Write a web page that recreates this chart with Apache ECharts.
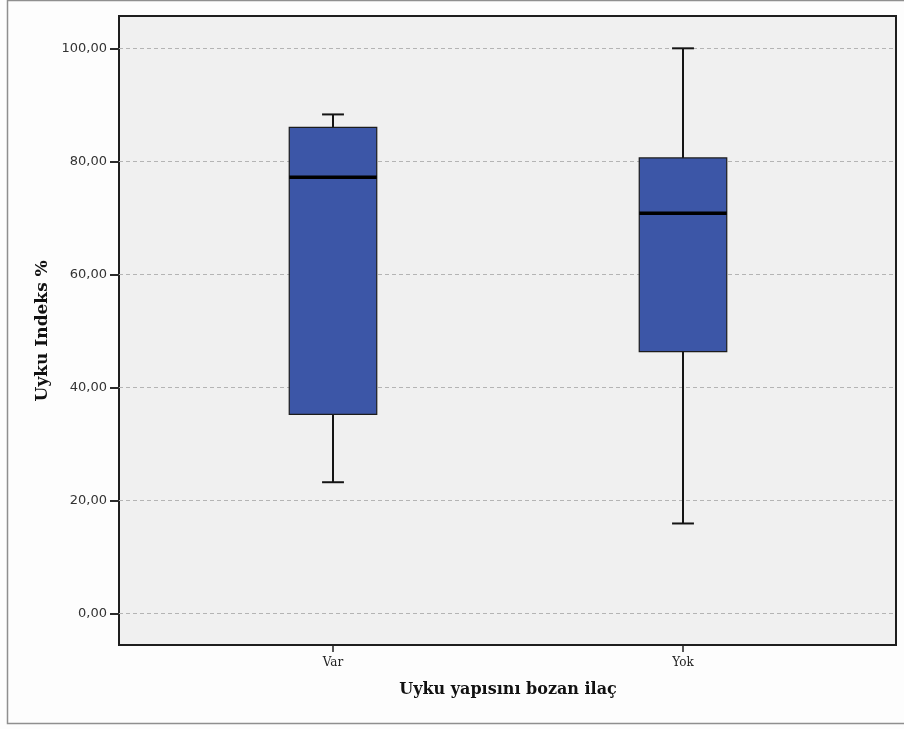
<!DOCTYPE html>
<html>
<head>
<meta charset="utf-8">
<script src="https://cdn.jsdelivr.net/npm/echarts@6/dist/echarts.min.js"></script>
<style>
  html, body { margin: 0; padding: 0; background: #fdfdfd; }
  #chart { width: 904px; height: 729px; }
</style>
</head>
<body>
<div id="chart"></div>
<script>
// Groups and box-plot statistics (Uyku Indeks %)
const categories = ['Var', 'Yok'];
const lowerWhisker = [23.2, 15.9];
const q1 = [35.2, 46.3];
const median = [77.2, 70.8];
const q3 = [86.0, 80.6];
const upperWhisker = [88.3, 100.0];
const yTicks = [0, 20, 40, 60, 80, 100];

// value range of the full plot frame (slightly wider than the tick range)
const frameMin = -5.61;
const frameMax = 105.72;

const boxData = categories.map((c, i) => [i, lowerWhisker[i], q1[i], median[i], q3[i], upperWhisker[i]]);

const chart = echarts.init(document.getElementById('chart'), null, { renderer: 'canvas' });

function renderBox(params, api) {
  const idx = api.value(0);
  const bandW = api.size([1, 0])[0];
  const boxW = bandW * 0.25;
  const capW = boxW * 0.25;
  const pLow = api.coord([idx, api.value(1)]);
  const pQ1 = api.coord([idx, api.value(2)]);
  const pMed = api.coord([idx, api.value(3)]);
  const pQ3 = api.coord([idx, api.value(4)]);
  const pHigh = api.coord([idx, api.value(5)]);
  const cx = pMed[0];
  const lineStyle = { stroke: '#141414', lineWidth: 2 };
  return {
    type: 'group',
    children: [
      { type: 'line', shape: { x1: cx, y1: pHigh[1], x2: cx, y2: pQ3[1] }, style: lineStyle },
      { type: 'line', shape: { x1: cx, y1: pQ1[1], x2: cx, y2: pLow[1] }, style: lineStyle },
      { type: 'line', shape: { x1: cx - capW / 2, y1: pHigh[1], x2: cx + capW / 2, y2: pHigh[1] }, style: lineStyle },
      { type: 'line', shape: { x1: cx - capW / 2, y1: pLow[1], x2: cx + capW / 2, y2: pLow[1] }, style: lineStyle },
      {
        type: 'rect',
        shape: { x: cx - boxW / 2, y: pQ3[1], width: boxW, height: pQ1[1] - pQ3[1] },
        style: { fill: '#3c56a7', stroke: '#1c1c1c', lineWidth: 1.2 }
      },
      { type: 'line', shape: { x1: cx - boxW / 2, y1: pMed[1], x2: cx + boxW / 2, y2: pMed[1] }, style: { stroke: '#000', lineWidth: 3.5 } }
    ]
  };
}

const option = {
  backgroundColor: '#fdfdfd',
  animation: false,
  graphic: [
    {
      type: 'rect', silent: true, z: -10,
      shape: { x: 7.5, y: 0.5, width: 910, height: 723 },
      style: { fill: 'none', stroke: '#8f8f8f', lineWidth: 1.5 }
    }
  ],
  grid: [
    // plot frame
    { left: 119, top: 16, width: 777, height: 629, show: true, backgroundColor: '#f0f0f0', borderColor: '#1e1e1e', borderWidth: 2, z: 0 },
    // value scale
    { left: 119, top: 48.33, width: 777, height: 565 },
    // groups
    { left: 158, top: 16, width: 700, height: 629 }
  ],
  xAxis: [
    { gridIndex: 0, type: 'value', show: false },
    { gridIndex: 1, type: 'value', show: false },
    {
      gridIndex: 2, type: 'category', data: categories, position: 'bottom',
      axisLine: { show: false, onZero: false },
      axisTick: { show: true, alignWithLabel: true, length: 7, lineStyle: { color: '#222', width: 1.5 } },
      axisLabel: { margin: 12, fontFamily: 'DejaVu Serif', fontSize: 12, color: '#222' },
      splitLine: { show: false },
      name: 'Uyku yapısını bozan ilaç', nameLocation: 'middle', nameGap: 37,
      nameTextStyle: { fontFamily: 'DejaVu Serif', fontWeight: 'bold', fontSize: 16, color: '#111' }
    }
  ],
  yAxis: [
    { gridIndex: 0, type: 'value', show: false },
    {
      gridIndex: 1, type: 'value', min: yTicks[0], max: yTicks[yTicks.length - 1], interval: 20,
      axisLine: { show: false },
      axisTick: { show: true, length: 9, lineStyle: { color: '#2a2a2a', width: 2 } },
      axisLabel: {
        margin: 12, fontFamily: 'DejaVu Sans', fontSize: 13, color: '#333',
        formatter: v => v.toFixed(2).replace('.', ',')
      },
      splitLine: { show: true, lineStyle: { color: '#b4b4b4', type: [4, 3], width: 1 } },
      name: 'Uyku Indeks %', nameLocation: 'middle', nameGap: 65, nameRotate: 90,
      nameTextStyle: { fontFamily: 'DejaVu Serif', fontWeight: 'bold', fontSize: 17, color: '#111' }
    },
    { gridIndex: 2, type: 'value', min: frameMin, max: frameMax, show: false }
  ],
  series: [
    {
      type: 'custom',
      xAxisIndex: 2,
      yAxisIndex: 2,
      renderItem: renderBox,
      encode: { x: 0, y: [1, 2, 3, 4, 5] },
      data: boxData,
      z: 5
    }
  ]
};

chart.setOption(option);
</script>
</body>
</html>
